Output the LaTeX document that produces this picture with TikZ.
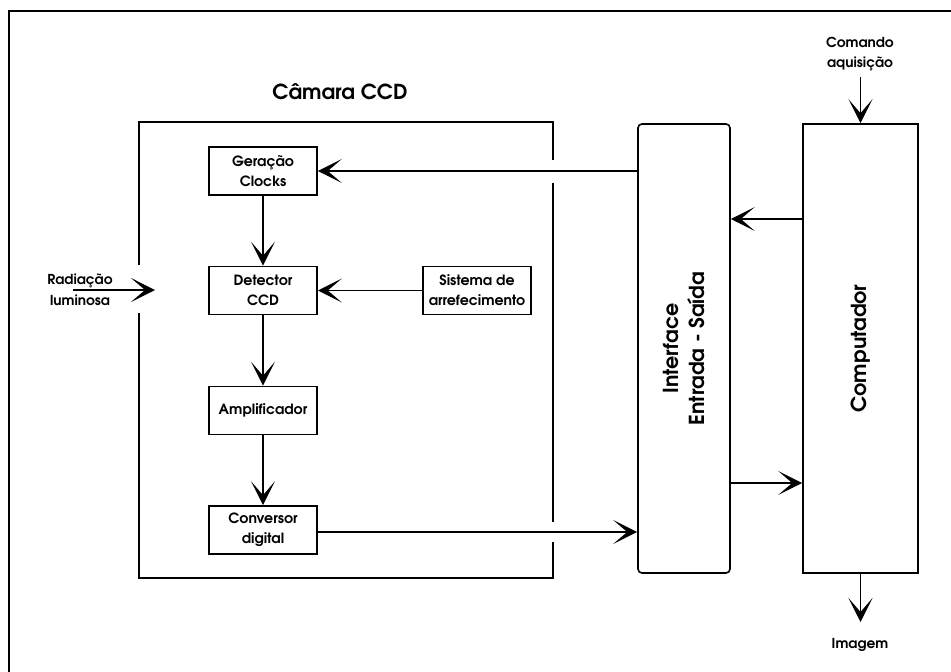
\documentclass[tikz,border=0pt]{standalone}
\usepackage{fontspec}
\setmainfont{TeX Gyre Adventor}
\usetikzlibrary{arrows.meta,calc}
\tikzset{
  box/.style={draw, line width=1.2pt, minimum width=81pt, minimum height=36pt, inner sep=0pt, align=center, font=\bfseries\fontsize{10.6}{15}\selectfont},
  bigtext/.style={align=center, inner sep=0pt, font=\bfseries\fontsize{15.5}{20}\selectfont},
  lbl/.style={align=center, inner sep=0pt, font=\bfseries\fontsize{10.3}{15.5}\selectfont},
  conn/.style={line width=1pt, -{Stealth[length=18pt,width=18pt,inset=10.5pt]}},
  tallbox/.style={draw, line width=1.2pt, minimum height=336.75pt, inner sep=0pt},
}
\begin{document}
\begin{tikzpicture}[x=0.75pt,y=-0.75pt]
\clip (0,0) rectangle (951,672);
\fill[white] (0,0) rectangle (951,672);
\draw[line width=1.6pt] (9,11) rectangle (990,700);
% camera outline with gaps
\draw[line width=1.9pt] (139,265) -- (139,122) -- (553,122) -- (553,160)
  (553,183) -- (553,522) (553,542) -- (553,578) -- (139,578) -- (139,313);
\node[bigtext] (camlbl) at (340,92) {Câmara CCD};
% boxes
\node[box] (gen) at (263,171) {Geração\\Clocks};
\node[box] (det) at (263,290.5) {Detector\\CCD};
\node[box] (sis) at (477,290.5) {Sistema de\\arrefecimento};
\node[box] (amp) at (263,410.5) {Amplificador};
\node[box] (conv) at (263,530) {Conversor\\digital};
\node[tallbox, rounded corners=3pt, minimum width=69pt] (intf) at (684,348.5) {};
\node[tallbox, minimum width=86.25pt] (comp) at (860.5,348.5) {};
\node[bigtext, rotate=90] (intflbl) at (intf.center) {Interface\\Entrada - Saída};
\node[bigtext, rotate=90] (complbl) at (comp.center) {Computador};
% labels
\node[lbl] (rad) at (80,290) {Radiação\\luminosa};
\node[lbl] (cmd) at (860,54) {Comando\\aquisição};
\node[lbl] (img) at (860,645) {Imagem};
% free ends and levels
\coordinate (radA) at (73,290);
\coordinate (radB) at (155,290);
\coordinate (cmdA) at (860.5,77);
\coordinate (imgB) at (860.5,622);
\coordinate (yA) at (0,219);
\coordinate (yB) at (0,483);
\coordinate (yC) at (0,532);
% connectors
\draw[conn] (radA) -- (radB);
\draw[conn] (intf.west |- gen.east) -- (gen.east);
\draw[conn] (gen) -- (det);
\draw[conn] (sis) -- (det);
\draw[conn] (det) -- (amp);
\draw[conn] (amp) -- (conv);
\draw[conn] (conv.east |- yC) -- (intf.west |- yC);
\draw[conn] (comp.west |- yA) -- (intf.east |- yA);
\draw[conn] (intf.east |- yB) -- (comp.west |- yB);
\draw[conn] (cmdA) -- (comp.north);
\draw[conn] (comp.south) -- (imgB);
\end{tikzpicture}
\end{document}
